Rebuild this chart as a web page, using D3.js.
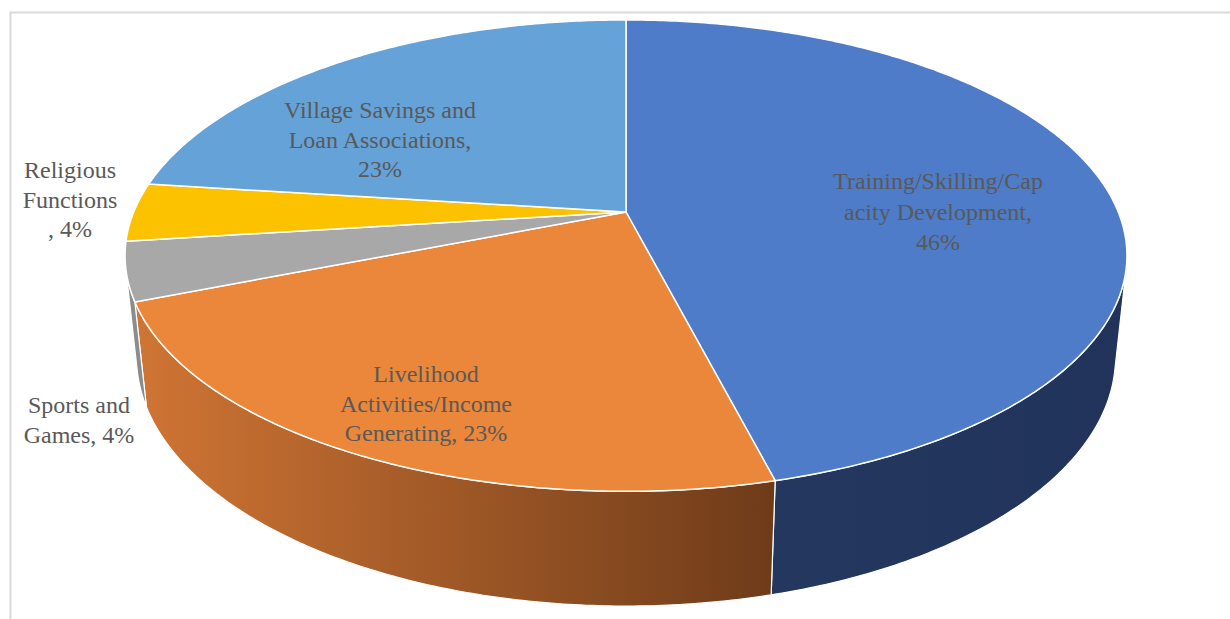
<!DOCTYPE html>
<html>
<head>
<meta charset="utf-8">
<script src="https://cdn.jsdelivr.net/npm/d3@7"></script>
<style>
  body { margin: 0; background: #fff; }
  svg { display: block; }
  .lbl { font-family: "Liberation Serif", "DejaVu Serif", "Times New Roman", Times, serif; }
</style>
</head>
<body>
<div id="chart"></div>
<script>
// data
const categories = [
  "Training/Skilling/Capacity Development",
  "Livelihood Activities/Income Generating",
  "Sports and Games",
  "Religious Functions",
  "Village Savings and Loan Associations"
];
const values = [46, 23, 4, 4, 23];
const labelLines = [
  ["Training/Skilling/Cap", "acity Development,", "46%"],
  ["Livelihood", "Activities/Income", "Generating, 23%"],
  ["Sports and", "Games, 4%"],
  ["Religious", "Functions", ", 4%"],
  ["Village Savings and", "Loan Associations,", "23%"]
];

// styles
const topColors = ["#4E7CC8", "#EB873B", "#A8A8A8", "#FCC200", "#65A2D8"];
const wallColors = [
  ["#24385F", "#21335A"],
  ["#D07534", "#6E3B19"],
  ["#8E8E8E", "#8A8A8A"],
  ["#C99A00", "#C09300"],
  ["#4F82B0", "#4A7AA6"]
];
// label anchors: centre x, first baseline, line step
const labelAnchor = [
  [938, 189, 30.5],
  [426, 382, 29.5],
  [79, 413, 29.5],
  [70, 178, 29.5],
  [380, 118, 29.5]
];

const width = 1230;
const height = 619;

const svg = d3.select("#chart").append("svg")
  .attr("width", width)
  .attr("height", height);

// chart frame
svg.append("rect")
  .attr("x", 10.5).attr("y", 12.5)
  .attr("width", width + 20).attr("height", height + 20)
  .attr("fill", "none")
  .attr("stroke", "#D9D9D9")
  .attr("stroke-width", 2);

// 3D projection of the pie disc
const cx = 626, cy = 212;
const sinP = 0.4624, cosP = Math.sqrt(1 - sinP * sinP);
const D = 4.79, F = 2358, thick = 0.2346;

function proj(a, r, y) {
  const x = r * Math.sin(a), z = r * Math.cos(a);
  const X3 = x;
  const Y3 = y * cosP + z * sinP;
  const Z3 = D + z * cosP - y * sinP;
  return [cx + F * X3 / Z3, cy - F * Y3 / Z3];
}

const pie = d3.pie().sort(null).value(d => d)(values);

function rim(a0, a1, y) {
  const n = Math.max(2, Math.ceil((a1 - a0) / 0.01));
  return d3.range(n + 1).map(i => proj(a0 + (a1 - a0) * i / n, 1, y));
}

// visible part of the side wall
const cVis = -1 / (D * cosP);
const visStart = Math.acos(cVis);
const visEnd = 2 * Math.PI - visStart;

const defs = svg.append("defs");
const walls = svg.append("g");
const tops = svg.append("g");

pie.forEach((p, i) => {
  const s = Math.max(p.startAngle, visStart);
  const e = Math.min(p.endAngle, visEnd);
  if (e <= s) return;
  const topPts = rim(s, e, 0);
  const botPts = rim(s, e, -thick).reverse();
  const pts = topPts.concat(botPts);
  const xs = d3.extent(pts, d => d[0]);
  const grad = defs.append("linearGradient")
    .attr("id", "wall" + i)
    .attr("gradientUnits", "userSpaceOnUse")
    .attr("x1", xs[0]).attr("x2", xs[1])
    .attr("y1", 0).attr("y2", 0);
  grad.append("stop").attr("offset", 0).attr("stop-color", wallColors[i][0]);
  grad.append("stop").attr("offset", 1).attr("stop-color", wallColors[i][1]);
  walls.append("path")
    .attr("d", d3.line()(pts) + "Z")
    .attr("fill", `url(#wall${i})`)
    .attr("stroke", "#fff")
    .attr("stroke-width", 1.2)
    .attr("stroke-linejoin", "round");
});

tops.selectAll("path")
  .data(pie)
  .join("path")
  .attr("d", p => d3.line()([[cx, cy]].concat(rim(p.startAngle, p.endAngle, 0))) + "Z")
  .attr("fill", (p, i) => topColors[i])
  .attr("stroke", "#fff")
  .attr("stroke-width", 1.5)
  .attr("stroke-linejoin", "round");

// data labels
const labels = svg.append("g")
  .attr("class", "lbl")
  .style("font-size", "24px")
  .attr("fill", "#595959")
  .attr("text-anchor", "middle");

categories.forEach((c, i) => {
  const [lx, ly, step] = labelAnchor[i];
  const t = labels.append("text").attr("x", lx).attr("y", ly);
  labelLines[i].forEach((line, j) => {
    t.append("tspan").attr("x", lx).attr("y", ly + j * step).text(line);
  });
});
</script>
</body>
</html>
